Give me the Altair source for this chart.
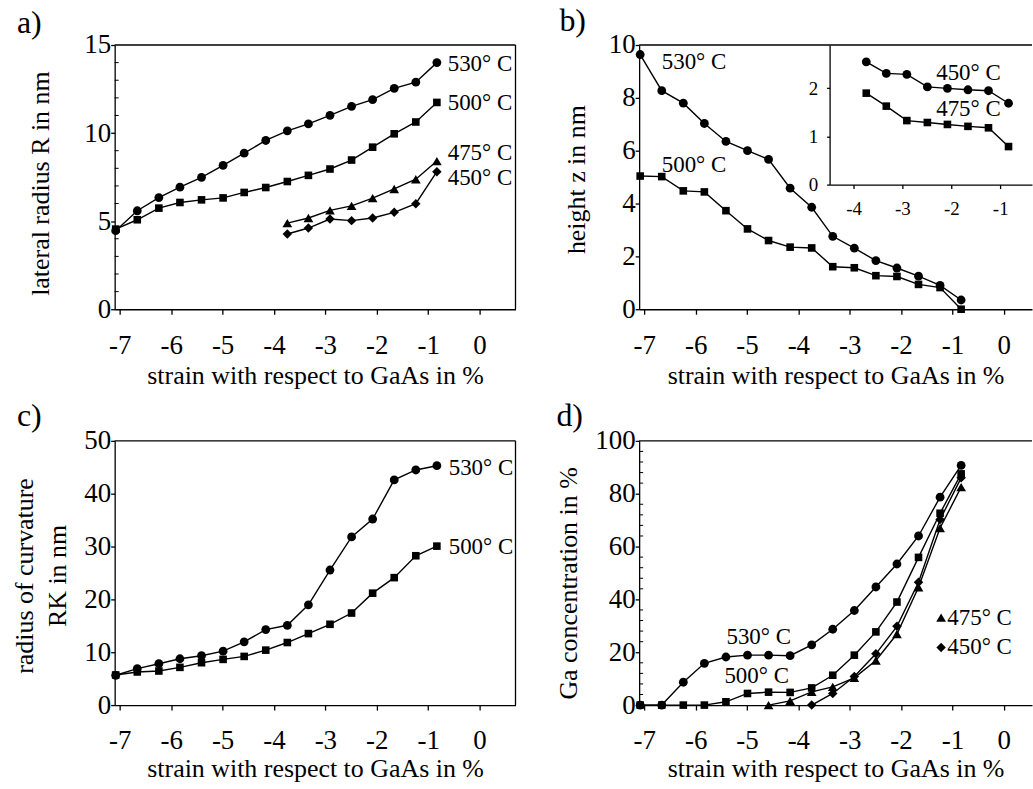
import altair as alt
import pandas as pd

FONT = "Liberation Serif, Times New Roman, Times, serif"

# strain values (x) shared by all panels
strain = [-7.08, -6.66, -6.24, -5.83, -5.41, -4.99, -4.58, -4.16,
          -3.74, -3.33, -2.91, -2.49, -2.08, -1.66, -1.24, -0.83]
x_ticks = [-7, -6, -5, -4, -3, -2, -1, 0]

# a) lateral radius R in nm
a_530 = [4.46, 5.59, 6.34, 6.93, 7.49, 8.17, 8.86, 9.58, 10.13, 10.52, 11.01, 11.52, 11.90, 12.54, 12.89, 14.00]
a_500 = [4.55, 5.08, 5.74, 6.06, 6.21, 6.32, 6.63, 6.91, 7.25, 7.60, 7.96, 8.47, 9.20, 9.96, 10.63, 11.74]
a_475 = [4.89, 5.18, 5.61, 5.87, 6.31, 6.83, 7.38, 8.41]
a_450 = [4.27, 4.61, 5.12, 5.03, 5.18, 5.50, 5.99, 7.81]
a_minor = [1, 2, 3, 4, 6, 7, 8, 9, 11, 12, 13, 14]

# b) height z in nm
b_530 = [9.64, 8.27, 7.80, 7.03, 6.35, 6.00, 5.67, 4.58, 3.86, 2.76, 2.31, 1.84, 1.56, 1.25, 0.90, 0.35]
b_500 = [5.04, 5.02, 4.48, 4.44, 3.73, 3.04, 2.60, 2.35, 2.32, 1.61, 1.57, 1.27, 1.24, 0.94, 0.82, 0.00]
# inset of b)
inset_450 = [2.55, 2.31, 2.29, 2.03, 2.00, 1.97, 1.95, 1.69]
inset_475 = [1.90, 1.63, 1.33, 1.29, 1.25, 1.21, 1.18, 0.79]
inset_xticks = [-4, -3, -2, -1]
inset_yticks = [0, 1, 2]

# c) radius of curvature R_K in nm
c_530 = [5.64, 6.89, 7.83, 8.77, 9.34, 10.21, 11.97, 14.29, 15.10, 18.98, 25.56, 31.83, 35.21, 42.61, 44.49, 45.30]
c_500 = [5.70, 6.27, 6.45, 7.14, 8.02, 8.65, 9.21, 10.40, 11.84, 13.53, 15.29, 17.42, 21.18, 24.12, 28.26, 30.08]

# d) Ga concentration in %
d_530 = [0, 0, 8.65, 15.8, 18.2, 18.9, 18.9, 18.7, 22.8, 28.7, 35.8, 44.7, 53.4, 64.0, 78.7, 90.7]
d_500 = [0, 0, 0, 0, 1.25, 4.4, 4.9, 4.8, 6.5, 11.3, 18.9, 27.7, 39.0, 55.9, 72.6, 87.5]
d_475 = [0, 1.6, 5.0, 6.9, 10.3, 16.9, 26.9, 44.6, 67.0, 82.5]
d_450 = [0, 4.4, 10.8, 19.4, 29.8, 46.5, 70.2, 86.0]
d_minor = [4, 8, 12, 16, 24, 28, 32, 36, 44, 48, 52, 56, 64, 68, 72, 76, 84, 88, 92, 96]

W_LEFT, W_RIGHT, H = 402, 394, 265
TICK_FS = 27
TITLE_FS = 26
LABEL_FS = 23
LETTER_FS = 32
ONE = pd.DataFrame({"k": [0]})
SHAPE_SIZE = {"circle": 78, "square": 58, "triangle-up": 95, "diamond": 90}


def long_df(parts, xs=strain):
    rows = []
    for name, shape, start, vals in parts:
        for xv, yv in zip(xs[start:start + len(vals)], vals):
            rows.append({"x": xv, "y": yv, "s": name, "shape": shape, "sz": SHAPE_SIZE[shape]})
    return pd.DataFrame(rows)


def point_layer(data, x, y):
    return alt.Chart(data).mark_point(filled=True, color="black", opacity=1).encode(
        x=x, y=y, shape=alt.Shape("shape:N", scale=None), size=alt.Size("sz:Q", scale=None))


def panel(parts, labels, letter, letter_xy, width, xdom, ydom, yvalues,
          ytitle, ytitle_xy, xtitle_y, minor=None, right_border=True,
          ytitle_lh=None, legend_pts=None):
    df = long_df(parts)
    xaxis = alt.Axis(orient="bottom", values=x_ticks, labelExpr="'' + datum.value",
                     tickSize=5, labelPadding=39, labelBaseline="alphabetic",
                     labelFlush=False, labelOverlap=False,
                     title="strain with respect to GaAs in %",
                     titleY=xtitle_y, titleBaseline="alphabetic")
    yargs = dict(orient="left", values=yvalues, tickSize=4, labelPadding=0,
                 labelBaseline="middle", labelFlush=False, labelOverlap=False,
                 title=ytitle, titleX=ytitle_xy[0], titleY=ytitle_xy[1],
                 titleBaseline="alphabetic", titleAlign="center", titleAngle=270)
    if ytitle_lh:
        yargs["titleLineHeight"] = ytitle_lh
    x = alt.X("x:Q", scale=alt.Scale(domain=xdom, nice=False, zero=False), axis=xaxis)
    y = alt.Y("y:Q", scale=alt.Scale(domain=ydom, nice=False, zero=False), axis=alt.Axis(**yargs))

    lines = alt.Chart(df).mark_line(color="black", strokeWidth=1.4).encode(x=x, y=y, detail="s:N")
    points = point_layer(df, x, y)
    ldf = pd.DataFrame(labels, columns=["x", "y", "t"])
    text = alt.Chart(ldf).mark_text(font=FONT, fontSize=LABEL_FS, align="left",
                                    baseline="middle", color="black").encode(x=x, y=y, text="t:N")
    layers = [lines, points, text]
    if legend_pts is not None:
        lp = pd.DataFrame(legend_pts, columns=["x", "y", "shape"])
        lp["sz"] = [SHAPE_SIZE[s] for s in lp["shape"]]
        layers.append(point_layer(lp, x, y))
    if minor is not None:
        mdf = pd.DataFrame({"y": minor})
        layers.append(alt.Chart(mdf).mark_rule(color="black", strokeWidth=1).encode(
            x=alt.value(0), x2=alt.value(4), y=y))
    # frame: top (and right) border
    layers.append(alt.Chart(ONE).mark_rule(color="black", strokeWidth=1.3).encode(
        x=alt.value(0), x2=alt.value(width), y=alt.value(0)))
    if right_border:
        layers.append(alt.Chart(ONE).mark_rule(color="black", strokeWidth=1.3).encode(
            x=alt.value(width), y=alt.value(0), y2=alt.value(H)))
    layers.append(alt.Chart(ONE).mark_text(font=FONT, fontSize=LETTER_FS, align="left",
                                           baseline="alphabetic", color="black").encode(
        x=alt.value(letter_xy[0]), y=alt.value(letter_xy[1]), text=alt.value(letter)))
    return alt.layer(*layers).properties(width=width, height=H)


# ---- panel a
pa = panel(
    [("530", "circle", 0, a_530), ("500", "square", 0, a_500),
     ("475", "triangle-up", 8, a_475), ("450", "diamond", 8, a_450)],
    [(-0.62, 13.94, "530° C"), (-0.62, 11.68, "500° C"),
     (-0.62, 8.86, "475° C"), (-0.62, 7.47, "450° C")],
    "a)", (-98, -12), W_LEFT, [-7.1, 0.7], [0, 15], [0, 5, 10, 15],
    "lateral radius R in nm", (-66, 138.5), 74, minor=a_minor)

# ---- panel b (main)
pb_main = panel(
    [("530", "circle", 0, b_530), ("500", "square", 0, b_500)],
    [(-6.66, 9.35, "530° C"), (-6.66, 5.47, "500° C")],
    "b)", (-80, -14), W_RIGHT, [-7.1, 0.55], [0, 10], [0, 2, 4, 6, 8, 10],
    "height z in nm", (-55, 134.5), 74, right_border=False)

# ---- inset of b
idf = long_df([("450", "circle", 8, inset_450), ("475", "square", 8, inset_475)])
ix = alt.X("x:Q", scale=alt.Scale(domain=[-4.49, -0.35], range=[191, 394], nice=False, zero=False),
           axis=alt.Axis(orient="bottom", offset=-125, values=inset_xticks,
                         labelExpr="'' + datum.value", tickSize=4, labelPadding=26,
                         labelBaseline="alphabetic", labelFontSize=19, labelFlush=False,
                         labelOverlap=False, title=None))
iy = alt.Y("y:Q", scale=alt.Scale(domain=[0, 2.9], range=[140, 0], nice=False, zero=False),
           axis=alt.Axis(orient="left", offset=-191, values=inset_yticks, tickSize=3,
                         labelPadding=9, labelBaseline="middle", labelFontSize=19,
                         labelFlush=False, labelOverlap=False, title=None))
ilines = alt.Chart(idf).mark_line(color="black", strokeWidth=1.4).encode(x=ix, y=iy, detail="s:N")
ipoints = point_layer(idf, ix, iy)
itext = alt.Chart(pd.DataFrame([(-2.31, 2.32, "450° C"), (-2.31, 1.56, "475° C")],
                               columns=["x", "y", "t"])).mark_text(
    font=FONT, fontSize=LABEL_FS, align="left", baseline="middle", color="black").encode(
    x=ix, y=iy, text="t:N")
inset = alt.layer(ilines, ipoints, itext)

pb = alt.layer(pb_main, inset).resolve_scale(x="independent", y="independent").properties(
    width=W_RIGHT, height=H)

# ---- panel c
pc = panel(
    [("530", "circle", 0, c_530), ("500", "square", 0, c_500)],
    [(-0.60, 44.9, "530° C"), (-0.60, 29.9, "500° C")],
    "c)", (-98, -15), W_LEFT, [-7.1, 0.7], [0, 50], [0, 10, 20, 30, 40, 50],
    ["radius of curvature", "RK in nm"], (-82, 135), 33, ytitle_lh=33)

# ---- panel d
pd_ = panel(
    [("530", "circle", 0, d_530), ("500", "square", 0, d_500),
     ("475", "triangle-up", 6, d_475), ("450", "diamond", 8, d_450)],
    [(-5.40, 25.6, "530° C"), (-5.44, 10.9, "500° C"),
     (-1.10, 33.1, "475° C"), (-1.10, 21.8, "450° C")],
    "d)", (-83, -15), W_RIGHT, [-7.1, 0.55], [0, 100], [0, 20, 40, 60, 80, 100],
    "Ga concentration in %", (-63, 142.5), 72, minor=d_minor, right_border=False,
    legend_pts=[(-1.22, 33.1, "triangle-up"), (-1.22, 21.8, "diamond")])

# fix panel c x-title baseline (positional arg above is the y-title line height slot)
pc = panel(
    [("530", "circle", 0, c_530), ("500", "square", 0, c_500)],
    [(-0.60, 44.9, "530° C"), (-0.60, 29.9, "500° C")],
    "c)", (-98, -15), W_LEFT, [-7.1, 0.7], [0, 50], [0, 10, 20, 30, 40, 50],
    ["radius of curvature", "RK in nm"], (-82, 135), 72, ytitle_lh=33)

chart = alt.concat(pa, pb, pc, pd_, columns=2, spacing={"row": 132, "column": 124},
                   bounds="flush").properties(
    padding={"left": 12, "top": 4, "right": 0, "bottom": 0},
    background="white",
).configure_view(stroke=None).configure_axis(
    labelFont=FONT, titleFont=FONT, labelFontSize=TICK_FS, titleFontSize=TITLE_FS,
    titleFontWeight="normal", labelColor="black", titleColor="black",
    domainColor="black", tickColor="black", grid=False, domainWidth=1.3, tickWidth=1.3,
)

chart.save("out.html", embed_options={"renderer": "svg", "actions": False})
